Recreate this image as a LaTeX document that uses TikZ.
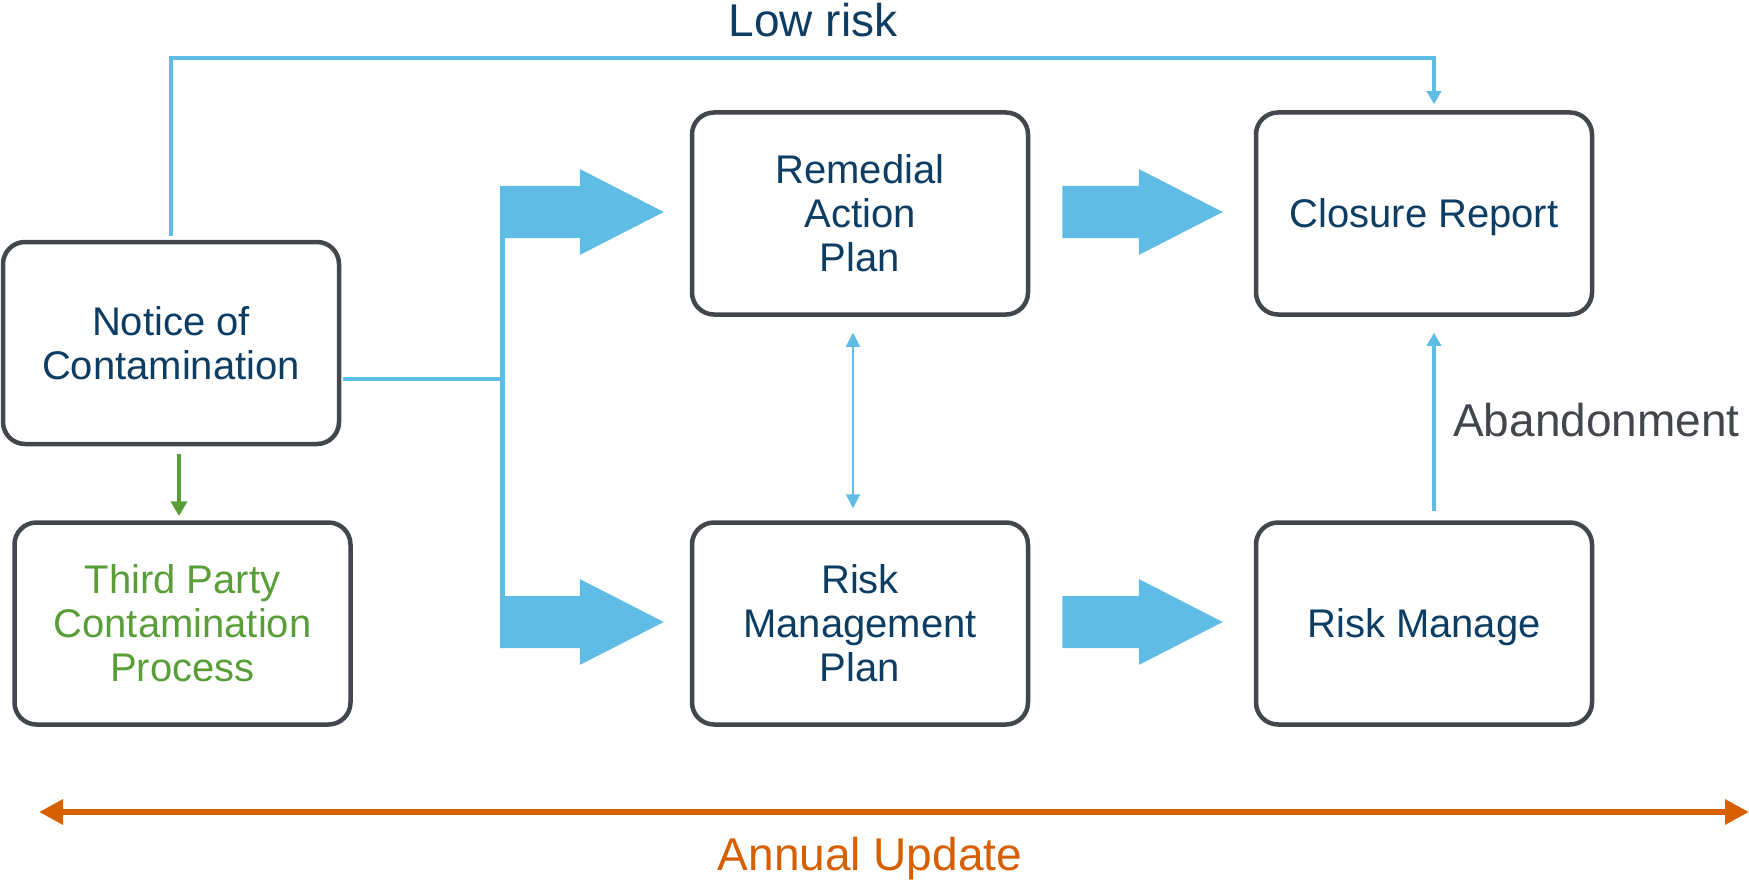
\documentclass[tikz,border=0pt]{standalone}
\usepackage{fontspec}
\setmainfont{Liberation Sans}
\usetikzlibrary{arrows.meta,calc}
\definecolor{flowblue}{HTML}{5FBDE5}
\definecolor{boxtext}{HTML}{0D3D63}
\definecolor{boxline}{HTML}{43474C}
\definecolor{tpgreen}{HTML}{5A9E3A}
\definecolor{updorange}{HTML}{D66000}
\definecolor{labelgray}{HTML}{43474C}
\newcommand{\blockarrow}[2]{%
  \fill[flowblue] ($(#1)+(0,-26)$) -- ($(#2)+(-84,-26)$) -- ($(#2)+(-84,-43)$) -- (#2)
    -- ($(#2)+(-84,43)$) -- ($(#2)+(-84,26)$) -- ($(#1)+(0,26)$) -- cycle;}
\tikzset{
  stage/.style={draw=boxline, line width=4.5pt, rounded corners=22pt,
    minimum width=336pt, minimum height=202pt, align=center, text=boxtext,
    font=\fontsize{40}{44}\selectfont, inner sep=0pt},
  blueline/.style={draw=flowblue, line width=4pt},
  bluetip/.style={-{Triangle[length=13pt,width=14pt]}},
  labeltext/.style={font=\fontsize{46}{50}\selectfont, inner sep=0pt}
}
\begin{document}
\begin{tikzpicture}[x=1pt,y=-1pt]
\useasboundingbox (0,0) rectangle (1749,880);

\node[stage] (notice) at (171,343) {Notice of\\Contamination};
\node[stage, text=tpgreen] (third) at (182.5,623.5) {Third Party\\Contamination\\Process};
\node[stage] (rap) at (860,213.5) {Remedial\\Action\\Plan};
\node[stage] (rmp) at (860,623.5) {Risk\\Management\\Plan};
\node[stage, text height=36pt, text depth=8pt] (clos) at (1424,213.5) {Closure Report};
\node[stage, text height=36pt, text depth=8pt] (rm) at (1424,623.5) {Risk Manage};

% low risk path
\coordinate (lrup) at ($(notice.north)+(0,-4)$);
\coordinate (lrdown) at ($(clos.north)+(10,-6)$);
\draw[blueline, bluetip] (lrup) |- (813,58) -| (lrdown);
\node[labeltext, text=boxtext] (lowrisk) at (813,20) {Low risk};

% branch to plans
\coordinate (branchstart) at ($(notice.east)+(2,36)$);
\coordinate (trunktop) at (502,186);
\coordinate (trunkbot) at (502,647);
\coordinate (trunkup) at (500,212);
\coordinate (trunklow) at (500,622);
\draw[blueline] (branchstart) -- (branchstart -| trunktop);
\draw[draw=flowblue, line width=5pt] (trunktop) -- (trunkbot);
\coordinate (tipA) at ($(rap.west)+(-26,-1.5)$);
\coordinate (tipB) at ($(rmp.west)+(-26,-1.5)$);
\blockarrow{trunkup}{tipA}
\blockarrow{trunklow}{tipB}

% horizontal block arrows
\coordinate (srcC) at ($(rap.east)+(32,-1.5)$);
\coordinate (tipC) at ($(clos.west)+(-31,-1.5)$);
\coordinate (srcD) at ($(rmp.east)+(32,-1.5)$);
\coordinate (tipD) at ($(rm.west)+(-31,-1.5)$);
\blockarrow{srcC}{tipC}
\blockarrow{srcD}{tipD}

% double arrow between plans
\draw[draw=flowblue, line width=2pt, {Triangle[length=14pt,width=14pt]}-{Triangle[length=14pt,width=14pt]}]
  ($(rap.south)+(-7,16)$) -- ($(rmp.north)+(-7,-12)$);

% abandonment
\draw[blueline, bluetip] ($(rm.north)+(10,-9)$) -- ($(clos.south)+(10,16)$);
\node[labeltext, text=labelgray, anchor=west] (aband) at (1453,420) {Abandonment};

% third party
\draw[draw=tpgreen, line width=4pt, -{Triangle[length=15pt,width=16pt]}]
  ($(notice.south)+(8,8)$) -- ($(third.north)+(-3.5,-4)$);

% annual update
\coordinate (annL) at (39,812);
\coordinate (annR) at (1749,812);
\draw[draw=updorange, line width=6pt, {Triangle[length=24pt,width=24pt]}-{Triangle[length=24pt,width=24pt]}]
  (annL) -- (annR);
\node[labeltext, text=updorange] (annual) at (870,859) {Annual Update};
\end{tikzpicture}
\end{document}
